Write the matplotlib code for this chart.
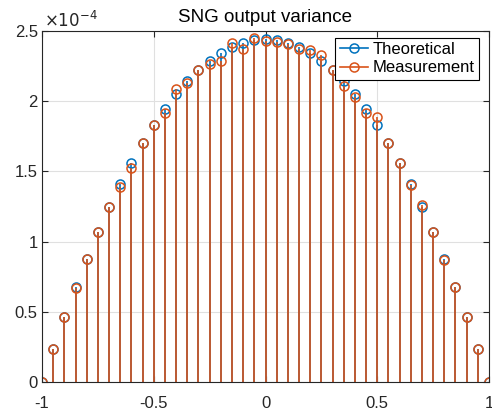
import matplotlib
matplotlib.use("Agg")
import matplotlib.pyplot as plt
from matplotlib.lines import Line2D

plt.rcParams['font.family'] = ['Liberation Sans', 'DejaVu Sans']

# input value of the SNG, -1 .. 1
x_vals = [-1.0, -0.95, -0.9, -0.85, -0.8, -0.75, -0.7, -0.65, -0.6, -0.55, -0.5,
          -0.45, -0.4, -0.35, -0.3, -0.25, -0.2, -0.15, -0.1, -0.05, 0.0,
          0.05, 0.1, 0.15, 0.2, 0.25, 0.3, 0.35, 0.4, 0.45, 0.5,
          0.55, 0.6, 0.65, 0.7, 0.75, 0.8, 0.85, 0.9, 0.95, 1.0]

# variance in units of 1e-4
theoretical = [0.0, 0.238, 0.464, 0.678, 0.879, 1.068, 1.245, 1.410, 1.563, 1.703, 1.831,
               1.947, 2.051, 2.142, 2.222, 2.289, 2.344, 2.387, 2.417, 2.435, 2.441,
               2.435, 2.417, 2.387, 2.344, 2.289, 2.222, 2.142, 2.051, 1.947, 1.831,
               1.703, 1.563, 1.410, 1.245, 1.068, 0.879, 0.678, 0.464, 0.238, 0.0]

measurement = [0.0, 0.238, 0.462, 0.668, 0.879, 1.068, 1.248, 1.386, 1.527, 1.703, 1.831,
               1.919, 2.087, 2.130, 2.222, 2.262, 2.285, 2.415, 2.370, 2.447, 2.430,
               2.423, 2.405, 2.370, 2.368, 2.331, 2.222, 2.108, 2.027, 1.919, 1.888,
               1.703, 1.560, 1.405, 1.264, 1.068, 0.867, 0.678, 0.464, 0.238, 0.0]

x_ticks = [-1, -0.5, 0, 0.5, 1]
x_ticklabels = ['-1', '-0.5', '0', '0.5', '1']
y_ticks = [0, 0.5, 1, 1.5, 2, 2.5]
y_ticklabels = ['0', '0.5', '1', '1.5', '2', '2.5']

blue = '#0072BD'
orange = '#D95319'
axis_col = '#262626'

fig = plt.figure(figsize=(4.92, 4.16), dpi=100)
ax = fig.add_axes([42 / 492, 34 / 416, 447 / 492, 351 / 416])

for vals, col in [(theoretical, blue), (measurement, orange)]:
    ml, sl, bl = ax.stem(x_vals, vals, basefmt=' ')
    plt.setp(sl, color=col, linewidth=1.2)
    plt.setp(ml, markerfacecolor='none', markeredgecolor=col,
             markersize=6.5, markeredgewidth=1.1)

ax.set_xlim(-1, 1)
ax.set_ylim(0, 2.5)
ax.set_xticks(x_ticks)
ax.set_xticklabels(x_ticklabels)
ax.set_yticks(y_ticks)
ax.set_yticklabels(y_ticklabels)

ax.grid(True, color='#e0e0e0', linewidth=0.8)
ax.set_axisbelow(True)
ax.tick_params(direction='in', length=4, width=0.8, colors=axis_col,
               labelsize=12, top=True, right=True)
ax.tick_params(axis='x', pad=10)
ax.tick_params(axis='y', pad=3)
for s in ax.spines.values():
    s.set_color(axis_col)
    s.set_linewidth(0.8)

ax.set_title('SNG output variance', fontsize=13.5, color='black', pad=6.5)
ax.text(0.005, 1.003, r'$\times10^{-4}$', transform=ax.transAxes, fontsize=12,
        color=axis_col, ha='left', va='bottom')

handles = [
    Line2D([], [], color=blue, marker='o', markerfacecolor='none',
           markeredgecolor=blue, markersize=6.5, markeredgewidth=1.1, linewidth=1.2),
    Line2D([], [], color=orange, marker='o', markerfacecolor='none',
           markeredgecolor=orange, markersize=6.5, markeredgewidth=1.1, linewidth=1.2),
]
leg = ax.legend(handles, ['Theoretical', 'Measurement'], loc='upper right',
                bbox_to_anchor=((479 - 42) / 447, 1 - 7 / 351),
                fancybox=False, framealpha=1, edgecolor='black', fontsize=12,
                handlelength=1.7, handletextpad=0.3, borderpad=0.25,
                labelspacing=0.2, borderaxespad=0)
leg.get_frame().set_linewidth(0.8)

fig.savefig('out.png', dpi=100)
